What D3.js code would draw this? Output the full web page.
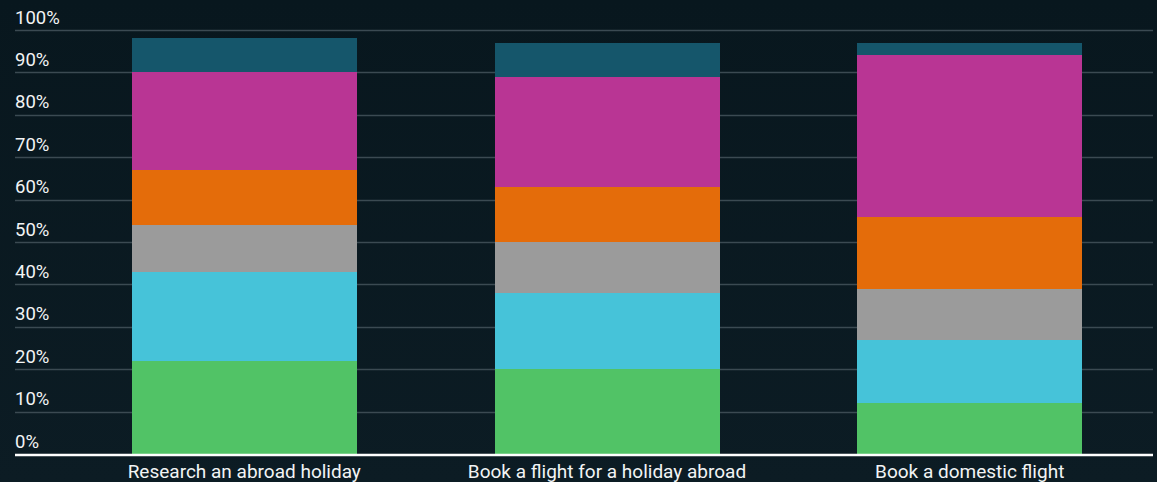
<!DOCTYPE html>
<html>
<head>
<meta charset="utf-8">
<script src="https://cdn.jsdelivr.net/npm/d3@7"></script>
<style>
  html, body { margin: 0; padding: 0; background: #0a1a21; }
  svg { display: block; }
</style>
</head>
<body>
<svg id="chart" width="1157" height="482"></svg>
<script>
// Activities (x axis)
const categories = [
  "Research an abroad holiday",
  "Book a flight for a holiday abroad",
  "Book a domestic flight"
];

// Stacked shares (%), bottom to top
const seriesNames = ["s1", "s2", "s3", "s4", "s5", "s6"];
const s1 = [22, 20, 12];
const s2 = [21, 18, 15];
const s3 = [11, 12, 12];
const s4 = [13, 13, 17];
const s5 = [23, 26, 38];
const s6 = [8, 8, 3];
const seriesValues = [s1, s2, s3, s4, s5, s6];
const seriesColors = ["#51c366", "#46c3d9", "#9b9b9b", "#e46c0a", "#b93594", "#15566b"];

// Y tick labels
const yTicks = [0, 10, 20, 30, 40, 50, 60, 70, 80, 90, 100];

const W = 1157, H = 482;
const svg = d3.select("#chart");

// Background
const defs = svg.append("defs");
const grad = defs.append("linearGradient").attr("id", "bg").attr("x1", 0).attr("y1", 0).attr("x2", 0).attr("y2", 1);
grad.append("stop").attr("offset", "0%").attr("stop-color", "#08171e");
grad.append("stop").attr("offset", "100%").attr("stop-color", "#0c1c24");
svg.append("rect").attr("width", W).attr("height", H).attr("fill", "url(#bg)");

const x = d3.scaleBand()
  .domain(categories)
  .range([23, 1191])
  .paddingInner(0.38)
  .paddingOuter(0.3);

const y = d3.scaleLinear().domain([0, 100]).range([454, 30]);

// Grid lines
svg.append("g")
  .selectAll("line")
  .data(yTicks.filter(t => t > 0))
  .join("line")
  .attr("x1", 15).attr("x2", 1153)
  .attr("y1", d => Math.round(y(d)) + 0.5)
  .attr("y2", d => Math.round(y(d)) + 0.5)
  .attr("stroke", "#3b4a52")
  .attr("stroke-width", 1.3);

// Tick labels
svg.append("g")
  .selectAll("text")
  .data(yTicks)
  .join("text")
  .attr("x", 15)
  .attr("y", d => y(d) - 6.5)
  .attr("fill", "#f2f4f5")
  .attr("font-family", "Roboto, sans-serif")
  .attr("font-size", 18.5)
  .text(d => d + "%");

// Stack rows
const rows = categories.map((c, i) => {
  const r = { category: c };
  seriesNames.forEach((n, k) => { r[n] = seriesValues[k][i]; });
  return r;
});
const stacked = d3.stack().keys(seriesNames)(rows);

svg.append("g")
  .attr("shape-rendering", "crispEdges")
  .selectAll("g")
  .data(stacked)
  .join("g")
  .attr("fill", (d, i) => seriesColors[i])
  .selectAll("rect")
  .data(d => d)
  .join("rect")
  .attr("x", d => Math.round(x(d.data.category)))
  .attr("width", Math.round(x.bandwidth()))
  .attr("y", d => Math.round(y(d[1])))
  .attr("height", d => Math.round(y(d[0])) - Math.round(y(d[1])));

// Baseline
svg.append("line")
  .attr("x1", 15).attr("x2", 1153)
  .attr("y1", 455).attr("y2", 455)
  .attr("stroke", "#ffffff")
  .attr("stroke-width", 2.5);

// Category labels
svg.append("g")
  .selectAll("text")
  .data(categories)
  .join("text")
  .attr("x", d => x(d) + x.bandwidth() / 2)
  .attr("y", 478)
  .attr("text-anchor", "middle")
  .attr("fill", "#f2f4f5")
  .attr("font-family", "Roboto, sans-serif")
  .attr("font-size", 19)
  .text(d => d);
</script>
</body>
</html>
